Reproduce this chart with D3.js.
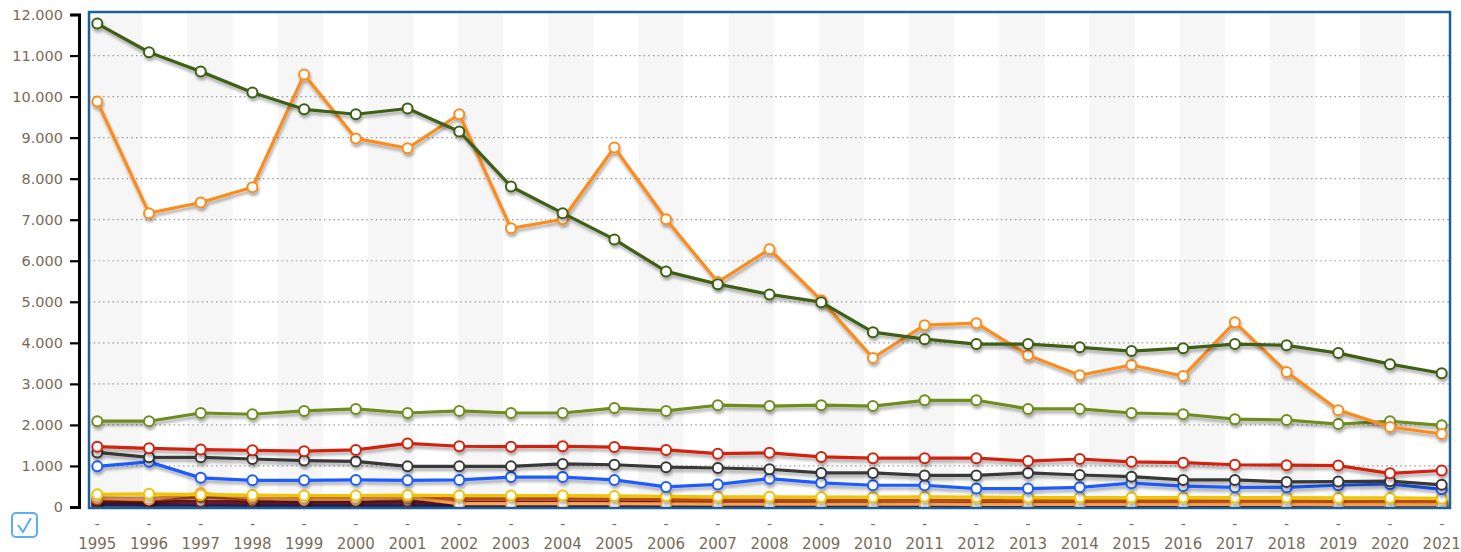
<!DOCTYPE html>
<html>
<head>
<meta charset="utf-8">
<script src="https://cdn.jsdelivr.net/npm/d3@7"></script>
<style>
    body { margin: 0; background: #fff; }
    svg text { font-family: 'DejaVu Sans', Verdana, sans-serif; fill: #7a6b57; }
</style>
</head>
<body>
<svg id="chart" width="1461" height="552"></svg>
<script>
'use strict';

var years = ['1995', '1996', '1997', '1998', '1999', '2000', '2001', '2002', '2003', '2004', '2005', '2006', '2007',
    '2008', '2009', '2010', '2011', '2012', '2013', '2014', '2015', '2016', '2017', '2018', '2019', '2020', '2021']
var yTicks = [0, 1000, 2000, 3000, 4000, 5000, 6000, 7000, 8000, 9000, 10000, 11000, 12000]

// values
var navySeries = [50, 48, 45, 42, 40, 40, 40, 38, 36, 35, 34, 33, 32, 31, 30, 30, 29, 28, 28, 27, 27, 26, 26, 25, 25, 24, 24]
var purpleSeries = [90, 88, 85, 82, 80, 80, 80, 75, 72, 70, 70, 68, 66, 65, 64, 62, 62, 60, 60, 58, 58, 57, 56, 56, 55, 55, 54]
var maroonSeries = [140, 135, 130, 125, 120, 120, 125, 120, 120, 120, 118, 115, 112, 110, 110, 105, 105, 104, 103, 102, 102, 100, 100, 100, 98, 98, 97]
var peachSeries = [220, 190, 340, 220, 190, 190, 240, 80, 80, 80, 80, 75, 72, 70, 70, 68, 68, 66, 65, 64, 64, 62, 62, 62, 60, 60, 60]
var redOrangeSeries = [190, 180, 240, 200, 210, 210, 220, 200, 200, 200, 195, 180, 170, 170, 165, 160, 160, 158, 155, 152, 150, 148, 145, 142, 140, 135, 130]
var yellowSeries = [310, 320, 300, 290, 280, 280, 290, 280, 280, 280, 270, 260, 250, 250, 240, 240, 250, 240, 230, 230, 230, 230, 230, 230, 220, 220, 210]
var blueSeries = [990, 1100, 710, 650, 650, 660, 650, 660, 730, 730, 660, 490, 550, 690, 590, 530, 530, 450, 450, 480, 580, 510, 480, 480, 530, 560, 430]
var greySeries = [1330, 1210, 1210, 1170, 1130, 1110, 990, 990, 990, 1050, 1030, 970, 950, 920, 830, 830, 770, 770, 830, 780, 740, 660, 660, 610, 620, 630, 540]
var redSeries = [1470, 1430, 1400, 1380, 1360, 1390, 1550, 1480, 1470, 1480, 1460, 1390, 1300, 1320, 1220, 1190, 1190, 1190, 1120, 1170, 1100, 1080, 1030, 1020, 1010, 820, 890]
var oliveSeries = [2090, 2090, 2290, 2260, 2340, 2390, 2290, 2340, 2290, 2290, 2410, 2340, 2480, 2460, 2480, 2460, 2600, 2600, 2390, 2390, 2290, 2260, 2140, 2120, 2020, 2090, 1990]
var orangeSeries = [9880, 7160, 7420, 7790, 10540, 8980, 8740, 9570, 6790, 7010, 8760, 7010, 5480, 6280, 5040, 3630, 4430, 4480, 3700, 3210, 3460, 3190, 4500, 3290, 2360, 1950, 1780]
var greenSeries = [11780, 11080, 10610, 10100, 9690, 9570, 9710, 9150, 7810, 7160, 6520, 5740, 5430, 5180, 4990, 4260, 4090, 3970, 3970, 3890, 3800, 3870, 3970, 3940, 3750, 3480, 3260]

var seriesList = [
    { name: 'navy', color: '#25307f', values: navySeries },
    { name: 'purple', color: '#55215f', values: purpleSeries },
    { name: 'maroon', color: '#8e1f24', values: maroonSeries },
    { name: 'redOrange', color: '#e4621c', values: redOrangeSeries },
    { name: 'peach', color: '#ffa24a', values: peachSeries },
    { name: 'yellow', color: '#f0c400', values: yellowSeries },
    { name: 'blue', color: '#1f5cff', values: blueSeries },
    { name: 'grey', color: '#383838', values: greySeries },
    { name: 'red', color: '#d0220f', values: redSeries },
    { name: 'olive', color: '#6f8c1e', values: oliveSeries },
    { name: 'orange', color: '#fb8c1c', values: orangeSeries },
    { name: 'green', color: '#3d5e12', values: greenSeries }
]

var svg = d3.select('#chart')
var frame = { left: 89, right: 1450, top: 12, bottom: 508 }

var x = d3.scalePoint().domain(years).range([97.3, 1441.7])
var y = d3.scaleLinear().domain([0, 12000]).range([507, 14.5])

var defs = svg.append('defs')
var shadow = defs.append('filter').attr('id', 'lineShadow')
    .attr('x', '-5%').attr('y', '-20%').attr('width', '110%').attr('height', '140%')
shadow.append('feDropShadow')
    .attr('dx', 1).attr('dy', 3).attr('stdDeviation', 1.8)
    .attr('flood-color', '#000').attr('flood-opacity', 0.32)
defs.append('clipPath').attr('id', 'plotClip').append('rect')
    .attr('x', frame.left).attr('y', frame.top)
    .attr('width', frame.right - frame.left).attr('height', frame.bottom - frame.top)

// background stripes
var stripeW = 45.1
var stripes = svg.append('g').attr('class', 'stripes')
var sx = x(years[0])
var k = 0
while (sx < frame.right) {
    var x0 = k === 0 ? frame.left : sx
    stripes.append('rect')
        .attr('x', x0).attr('y', frame.top)
        .attr('width', Math.min(sx + stripeW, frame.right) - x0)
        .attr('height', frame.bottom - frame.top)
        .style('fill', '#f6f6f6')
    sx += stripeW * 2
    k++
}

// dotted grid
svg.append('g').selectAll('line')
    .data(yTicks.filter(function(d) { return d > 0 && d < 12000 }))
    .enter().append('line')
    .attr('x1', frame.left).attr('x2', frame.right)
    .attr('y1', function(d) { return y(d) }).attr('y2', function(d) { return y(d) })
    .style('stroke', '#9a9a9a')
    .style('stroke-width', 1.2)
    .style('stroke-dasharray', '1.5,3.2')

// y axis
var yAxis = d3.axisLeft(y).tickValues(yTicks).tickSize(9).tickPadding(7)
    .tickFormat(function(d) { return d3.format(',')(d).replace(/,/g, '.') })
var yG = svg.append('g').attr('transform', 'translate(79,0)').call(yAxis)
yG.select('.domain').style('stroke', '#000').style('stroke-width', 3)
yG.selectAll('.tick line').style('stroke', '#000').style('stroke-width', 2.2)
yG.selectAll('.tick text').style('font-size', '14.5px').style('fill', '#7a6b57')

// x labels: dash + year
var xG = svg.append('g').attr('class', 'xlabels')
xG.selectAll('text.dash').data(years).enter().append('text')
    .attr('class', 'dash')
    .attr('x', function(d) { return x(d) }).attr('y', 529)
    .attr('text-anchor', 'middle')
    .style('font-size', '14px')
    .text('-')
xG.selectAll('text.year').data(years).enter().append('text')
    .attr('class', 'year')
    .attr('x', function(d) { return x(d) }).attr('y', 548.5)
    .attr('text-anchor', 'middle')
    .style('font-size', '15px')
    .text(function(d) { return d })

// series
var line = d3.line()
    .x(function(d, i) { return x(years[i]) })
    .y(function(d) { return y(d) })

var plot = svg.append('g').attr('clip-path', 'url(#plotClip)')
var groups = plot.selectAll('g.series').data(seriesList).enter().append('g')
    .attr('class', 'series')
    .attr('filter', 'url(#lineShadow)')

groups.append('path')
    .attr('d', function(d) { return line(d.values) })
    .style('fill', 'none')
    .style('stroke', function(d) { return d.color })
    .style('stroke-width', 3.2)
    .style('stroke-linejoin', 'round')

groups.selectAll('circle')
    .data(function(d) { return d.values.map(function(v) { return { v: v, color: d.color } }) })
    .enter().append('circle')
    .attr('cx', function(d, i) { return x(years[i]) })
    .attr('cy', function(d) { return y(d.v) })
    .attr('r', 5)
    .style('fill', '#fff')
    .style('stroke', function(d) { return d.color })
    .style('stroke-width', 2)

// frame
svg.append('rect')
    .attr('x', frame.left).attr('y', frame.top)
    .attr('width', frame.right - frame.left).attr('height', frame.bottom - frame.top)
    .style('fill', 'none')
    .style('stroke', '#1d5f96')
    .style('stroke-width', 2.5)

// checkbox
var cb = svg.append('g').attr('transform', 'translate(12,513)')
cb.append('rect')
    .attr('width', 25).attr('height', 24).attr('rx', 4)
    .style('fill', '#fff').style('stroke', '#5aaef5').style('stroke-width', 2)
cb.append('path')
    .attr('d', 'M6,12 L11,19 L19,5')
    .style('fill', 'none').style('stroke', '#5aaef5').style('stroke-width', 2)
</script>
</body>
</html>
